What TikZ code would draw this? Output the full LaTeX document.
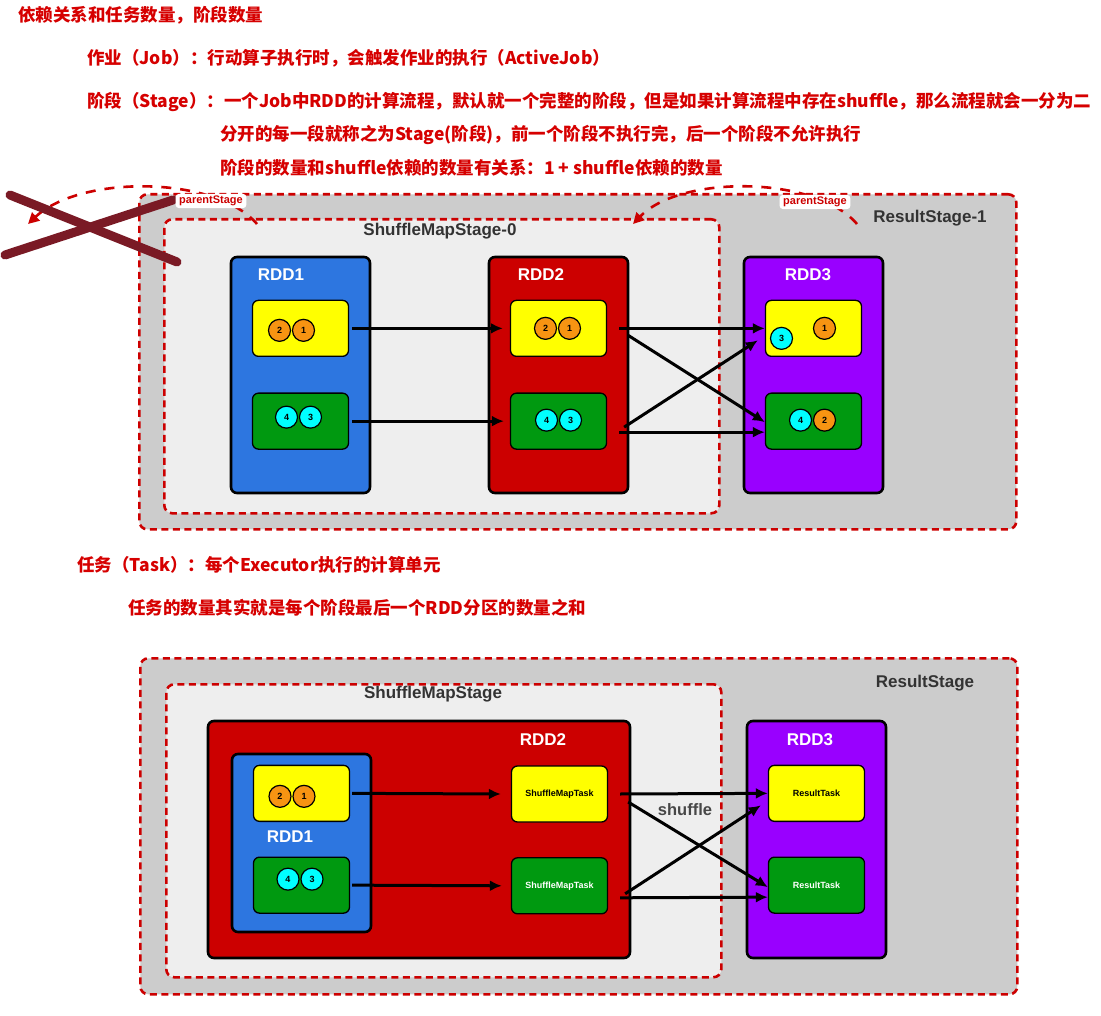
\documentclass[tikz,border=0pt]{standalone}
\usepackage{fontspec}
\setmainfont{Noto Sans CJK SC}
\setsansfont{Liberation Sans}
\usetikzlibrary{positioning,arrows.meta}

\definecolor{notered}{RGB}{214,0,0}
\definecolor{stagered}{RGB}{204,0,0}
\definecolor{rddblue}{RGB}{45,118,224}
\definecolor{rddred}{RGB}{204,0,0}
\definecolor{rddpurple}{RGB}{153,0,255}
\definecolor{partyellow}{RGB}{255,255,0}
\definecolor{partgreen}{RGB}{0,153,16}
\definecolor{dotorange}{RGB}{247,148,18}
\definecolor{dotcyan}{RGB}{0,255,255}
\definecolor{stagegray}{RGB}{204,204,204}
\definecolor{stagelight}{RGB}{238,238,238}
\definecolor{crossred}{RGB}{122,26,37}
\definecolor{labelgray}{RGB}{51,51,51}

\tikzset{
  note/.style={anchor=west, inner sep=0pt, text=notered, font=\bfseries\fontsize{17.5}{20}\selectfont},
  stagebox/.style={draw=stagered, line width=2.6pt, dash pattern=on 7pt off 4.5pt, rounded corners=8pt, anchor=north west, inner sep=0pt},
  stagelabel/.style={text=labelgray, font=\sffamily\bfseries\fontsize{17}{17}\selectfont},
  rddbox/.style={draw=black, line width=2.6pt, rounded corners=6pt, minimum width=139pt, minimum height=236pt, inner sep=0pt},
  rddlabel/.style={text=white, font=\sffamily\bfseries\fontsize{17}{17}\selectfont},
  part/.style={draw=black, line width=1.3pt, rounded corners=6pt, minimum width=96pt, minimum height=56pt, inner sep=0pt},
  dot/.style={circle, draw=black, line width=1.2pt, minimum size=22pt, inner sep=0pt, font=\sffamily\bfseries\fontsize{9}{9}\selectfont},
  tasklabel/.style={font=\sffamily\bfseries\fontsize{9}{9}\selectfont},
  flow/.style={->, line width=3pt},
  parentlink/.style={draw=stagered, line width=2.6pt, dash pattern=on 10pt off 9pt, -{Triangle[length=11pt,width=11pt]}},
  parentlbl/.style={fill=white, rounded corners=3pt, text=stagered, inner xsep=3.5pt, inner ysep=2pt, font=\sffamily\bfseries\fontsize{11}{11}\selectfont},
  crossout/.style={draw=crossred, line width=9pt, line cap=round}
}

\begin{document}
\begin{tikzpicture}[x=1pt, y=-1pt, >={Latex[length=12pt,width=11pt]}]
  \useasboundingbox[fill=white] (0,0) rectangle (1101,1016);

  % notes
  \node[note] (title) at (18,15) {依赖关系和任务数量，阶段数量};
  \node[note] (job) at (87,58) {作业（Job）：行动算子执行时，会触发作业的执行（ActiveJob）};
  \node[note] (stage) at (87,102) {阶段（Stage）：一个Job中RDD的计算流程，默认就一个完整的阶段，但是如果计算流程中存在shuffle，那么流程就会一分为二};
  \node[note] (stagea) at (220,135) {分开的每一段就称之为Stage(阶段)，前一个阶段不执行完，后一个阶段不允许执行};
  \node[note] (stageb) at (220,168) {阶段的数量和shuffle依赖的数量有关系：1 + shuffle依赖的数量};
  \node[note] (task) at (77,565) {任务（Task）：每个Executor执行的计算单元};
  \node[note] (taska) at (128,608) {任务的数量其实就是每个阶段最后一个RDD分区的数量之和};

  % top: stages
  \node[stagebox, fill=stagegray, minimum width=877pt, minimum height=335pt] (rs1) at (138,193) {};
  \node[stagebox, fill=stagelight, minimum width=555pt, minimum height=294pt] (sms0) at (163,218) {};
  \node[stagelabel] (sms0lbl) at (440,231) {ShuffleMapStage-0};
  \node[stagelabel] (rs1lbl) at (930,218) {ResultStage-1};

  % top: rdds
  \node[rddbox, fill=rddblue] (rdd1) at (300.5,375) {};
  \node[rddbox, fill=rddred, right=116.4pt of rdd1] (rdd2) {};
  \node[rddbox, fill=rddpurple, right=113.4pt of rdd2] (rdd3) {};
  \node[rddlabel] at (281,275) {RDD1};
  \node[rddlabel] at (541,275) {RDD2};
  \node[rddlabel] at (808,275) {RDD3};

  % top: partitions
  \node[part, fill=partyellow, below=44pt of rdd1.north] (p1a) {};
  \node[part, fill=partgreen, below=35.5pt of p1a] (p1b) {};
  \node[part, fill=partyellow, below=44pt of rdd2.north] (p2a) {};
  \node[part, fill=partgreen, below=35.5pt of p2a] (p2b) {};
  \node[part, fill=partyellow, below=44pt of rdd3.north] (p3a) {};
  \node[part, fill=partgreen, below=35.5pt of p3a] (p3b) {};

  \node[dot, fill=dotorange] (p1a2) at ([xshift=-21pt, yshift=-2pt]p1a.center) {2};
  \node[dot, fill=dotorange, right=0.8pt of p1a2] (p1a1) {1};
  \node[dot, fill=dotcyan] (p1b4) at ([xshift=-14pt, yshift=4pt]p1b.center) {4};
  \node[dot, fill=dotcyan, right=0.8pt of p1b4] (p1b3) {3};
  \node[dot, fill=dotorange] (p2a2) at ([xshift=-13pt]p2a.center) {2};
  \node[dot, fill=dotorange, right=0.8pt of p2a2] (p2a1) {1};
  \node[dot, fill=dotcyan] (p2b4) at ([xshift=-12pt, yshift=1pt]p2b.center) {4};
  \node[dot, fill=dotcyan, right=0.8pt of p2b4] (p2b3) {3};
  \node[dot, fill=dotcyan] (p3a3) at ([xshift=-32pt, yshift=-10pt]p3a.center) {3};
  \node[dot, fill=dotorange] (p3a1) at ([xshift=11pt]p3a.center) {1};
  \node[dot, fill=dotcyan] (p3b4) at ([xshift=-13pt, yshift=1pt]p3b.center) {4};
  \node[dot, fill=dotorange, right=0.8pt of p3b4] (p3b2) {2};

  % top: dependencies
  \draw[flow] ([xshift=3pt]p1a.east) -- ([xshift=-7pt]p2a.west);
  \draw[flow] ([xshift=3pt]p1b.east) -- ([xshift=-6pt]p2b.west);
  \draw[flow] ([xshift=12pt]p2a.east) -- (p3a.west);
  \draw[flow] ([xshift=21pt, yshift=-7pt]p2a.east) -- ([yshift=-1pt]p3b.west);
  \draw[flow] ([xshift=17pt, yshift=-6pt]p2b.east) -- ([xshift=-7pt, yshift=-12pt]p3a.west);
  \draw[flow] ([xshift=12pt, yshift=-11pt]p2b.east) -- ([yshift=-11pt]p3b.west);

  % parent stages
  \coordinate (ps1from) at (257,224);
  \coordinate (ps1to) at (28,224);
  \coordinate (ps2from) at (857,224);
  \coordinate (ps2to) at (633,224);
  \draw[parentlink] (ps1from) .. controls (215,175) and (80,175) .. (ps1to);
  \draw[parentlink] (ps2from) .. controls (815,175) and (680,175) .. (ps2to);
  \draw[crossout] (10,195) -- (177,262);
  \draw[crossout] (5,255) -- (173,200);
  \node[parentlbl] (pl1) at (211,201) {parentStage};
  \node[parentlbl] (pl2) at (815,202) {parentStage};

  % bottom: stages
  \node[stagebox, fill=stagegray, minimum width=877pt, minimum height=336pt] (rs) at (139,657) {};
  \node[stagebox, fill=stagelight, minimum width=555pt, minimum height=293pt] (sms) at (165,683) {};
  \node[stagelabel] (smslbl) at (433,694) {ShuffleMapStage};
  \node[stagelabel] (rslbl) at (925,683) {ResultStage};

  % bottom: rdds
  \node[rddbox, fill=rddred, minimum width=422pt, minimum height=237pt] (brdd2) at (419,839.5) {};
  \node[rddbox, fill=rddblue, minimum height=178pt] (brdd1) at (301.5,843) {};
  \node[rddbox, fill=rddpurple, minimum height=237pt, right=114.4pt of brdd2] (brdd3) {};
  \node[rddlabel] at (543,740) {RDD2};
  \node[rddlabel] at (810,740) {RDD3};
  \node[rddlabel] at (290,837) {RDD1};

  % bottom: partitions and tasks
  \node[part, fill=partyellow, below=12pt of brdd1.north] (q1a) {};
  \node[part, fill=partgreen, below=34.5pt of q1a] (q1b) {};
  \node[dot, fill=dotorange] (q1a2) at ([xshift=-21.5pt, yshift=-3pt]q1a.center) {2};
  \node[dot, fill=dotorange, right=0.8pt of q1a2] (q1a1) {1};
  \node[dot, fill=dotcyan] (q1b4) at ([xshift=-13.5pt, yshift=6pt]q1b.center) {4};
  \node[dot, fill=dotcyan, right=0.8pt of q1b4] (q1b3) {3};

  \node[part, fill=partyellow, tasklabel] (smt1) at (559.5,794) {ShuffleMapTask};
  \node[part, fill=partgreen, tasklabel, text=white, below=34.5pt of smt1] (smt2) {ShuffleMapTask};
  \node[part, fill=partyellow, tasklabel, below=45pt of brdd3.north] (rt1) {ResultTask};
  \node[part, fill=partgreen, tasklabel, text=white, below=34.5pt of rt1] (rt2) {ResultTask};

  % bottom: dependencies
  \draw[flow] ([xshift=2pt]q1a.east) -- ([xshift=-10pt]smt1.west);
  \draw[flow] ([xshift=2pt]q1b.east) -- ([xshift=-9pt]smt2.west);
  \draw[flow] ([xshift=12pt]smt1.east) -- (rt1.west);
  \draw[flow] ([xshift=20pt, yshift=-8pt]smt1.east) -- ([yshift=-2pt]rt2.west);
  \draw[flow] ([xshift=17pt, yshift=-8pt]smt2.east) -- ([xshift=-7pt, yshift=-12pt]rt1.west);
  \draw[flow] ([xshift=12pt, yshift=-12pt]smt2.east) -- ([yshift=-12pt]rt2.west);
  \node[stagelabel, text=labelgray!90, font=\sffamily\bfseries\fontsize{16.5}{16.5}\selectfont] (shuf) at (685,810) {shuffle};
\end{tikzpicture}
\end{document}
